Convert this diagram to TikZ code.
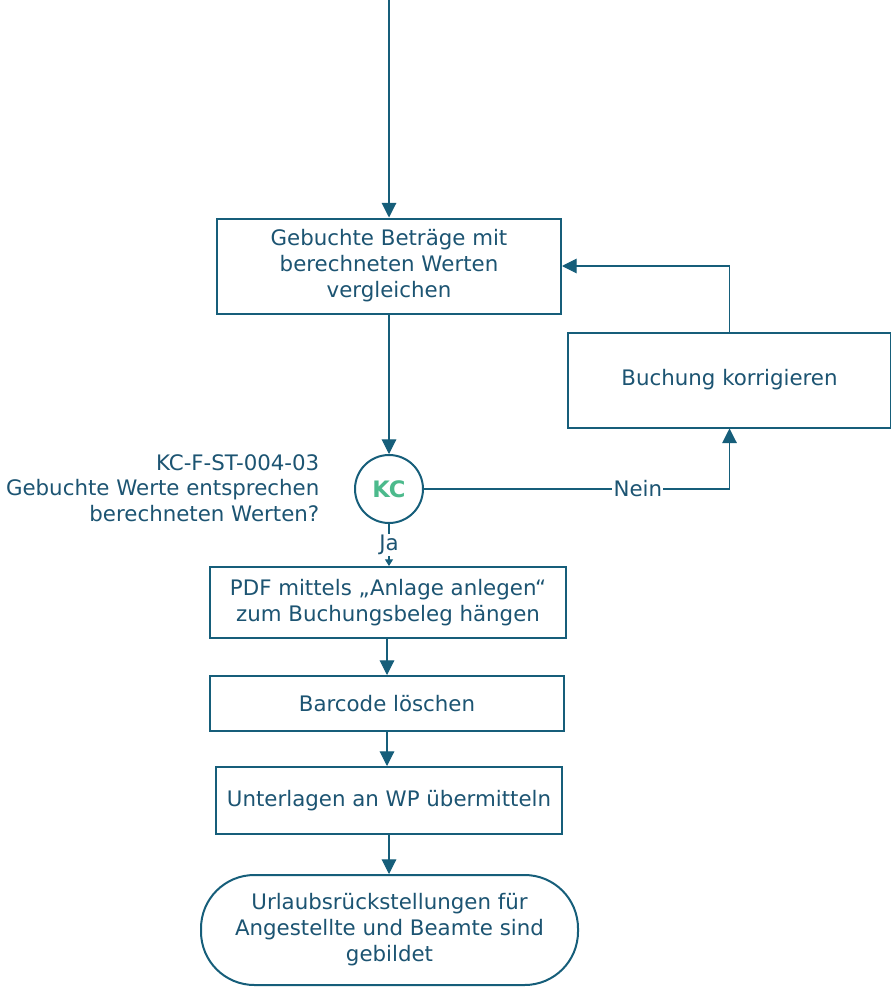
\documentclass[tikz,border=0pt]{standalone}
\usepackage{fontspec}
\setmainfont{DejaVu Sans}
\usepackage{xcolor}
\usepackage{tikz}
\usetikzlibrary{arrows.meta}
\definecolor{flowline}{RGB}{22,94,122}
\definecolor{flowtext}{RGB}{28,84,114}
\definecolor{kcgreen}{RGB}{76,186,140}

\tikzset{
  flowbox/.style={draw=flowline, line width=1.5pt, fill=white, text=flowtext, align=center,
    inner sep=0pt, font=\fontsize{16}{19.5}\selectfont},
  flowarrow/.style={draw=flowline, line width=0.8pt, -{Triangle[width=11pt,length=11pt]}},
  smallarrow/.style={draw=flowline, line width=0.8pt, -{Triangle[width=6pt,length=5pt]}},
  flowlabel/.style={text=flowtext, font=\fontsize{16}{19.5}\selectfont, fill=white, inner sep=1pt}
}

\begin{document}
\begin{tikzpicture}[x=0.75pt, y=-0.75pt]
        \useasboundingbox (0,0) rectangle (891,988);

        % Boxes
        \coordinate (start) at (389,0);
        \node[flowbox, minimum width=344*0.75pt, minimum height=95*0.75pt] (compare) at (389,266)
          {Gebuchte Beträge mit\\berechneten Werten\\vergleichen};
        \node[flowbox, minimum width=323*0.75pt, minimum height=95*0.75pt] (correct) at (729.5,380)
          {Buchung korrigieren};
        \node[circle, draw=flowline, line width=1.5pt, fill=white, minimum size=68*0.75pt, inner sep=0pt,
          text=kcgreen, font=\fontsize{17}{18}\selectfont\bfseries] (kc) at (389,489) {KC};
        \node[anchor=east, align=right, text=flowtext, font=\fontsize{16}{19}\selectfont] (kctext) at (324,488)
          {KC-F-ST-004-03\\Gebuchte Werte entsprechen\\berechneten Werten?};
        \node[flowbox, minimum width=356*0.75pt, minimum height=71*0.75pt] (attach) at (388,602.5)
          {PDF mittels „Anlage anlegen“\\zum Buchungsbeleg hängen};
        \node[flowbox, minimum width=354*0.75pt, minimum height=55*0.75pt] (barcode) at (387,703.5)
          {Barcode löschen};
        \node[flowbox, minimum width=346*0.75pt, minimum height=67*0.75pt] (send) at (389,800.5)
          {Unterlagen an WP übermitteln};
        \node[flowbox, minimum width=377*0.75pt, minimum height=110*0.75pt, rounded corners=40pt] (done) at (389.5,930)
          {Urlaubsrückstellungen für\\Angestellte und Beamte sind\\gebildet};

        % Connectors
        \draw[flowarrow] (start) -- (compare.north);
        \draw[flowarrow] (compare.south) -- (kc.north);
        \draw[flowarrow] (correct.north) |- (compare.east);
        \draw[flowarrow] (kc.east) -| node[flowlabel, pos=0.35] {Nein} (correct.south);
        \draw[smallarrow] (kc.south) -- node[flowlabel, pos=0.5] {Ja} (kc.south |- attach.north);
        \draw[flowarrow] (barcode.north |- attach.south) -- (barcode.north);
        \draw[flowarrow] (barcode.south) -- (barcode.south |- send.north);
        \draw[flowarrow] (send.south) -- (send.south |- done.north);
    \end{tikzpicture}
\end{document}
